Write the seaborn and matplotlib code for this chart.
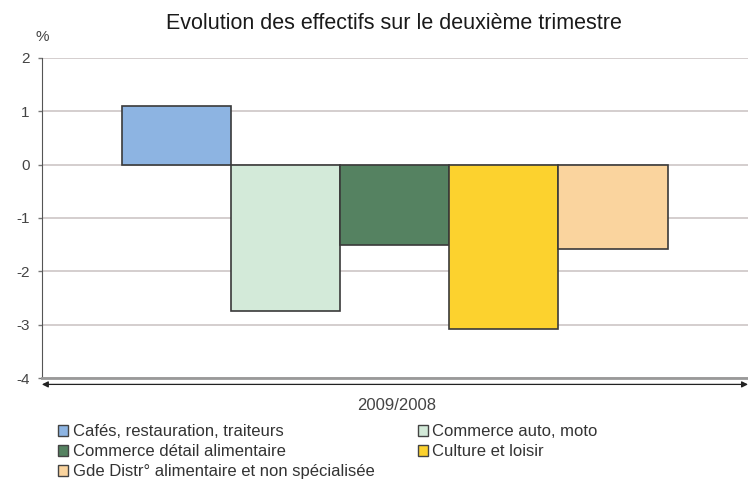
import pandas as pd
import seaborn as sns
import matplotlib.pyplot as plt

secteurs = ["Cafés, restauration, traiteurs", "Commerce auto, moto",
            "Commerce détail alimentaire", "Culture et loisir",
            "Gde Distr° alimentaire et non spécialisée"]
valeurs = [1.1, -2.75, -1.5, -3.08, -1.58]
periode = "2009/2008"
couleurs = ["#8DB4E2", "#D3EAD9", "#558261", "#FCD22E", "#FAD49E"]

data = pd.DataFrame({"periode": [periode] * len(secteurs),
                     "secteur": secteurs, "valeur": valeurs})

sns.set_style("white")
plt.rcParams['font.family'] = ['Liberation Sans', 'DejaVu Sans']
plt.rcParams['axes.unicode_minus'] = False

fig = plt.figure(figsize=(7.48, 4.8), dpi=100)
ax = fig.add_axes([0.056, 0.2125, 0.944, 0.667])

sns.barplot(data=data, x="periode", y="valeur", hue="secteur",
            palette=couleurs, saturation=1, width=0.772, edgecolor="#3a3a3a",
            linewidth=1.2, legend=False, ax=ax)

ax.set_ylim(-4, 2)
ax.set_yticks(range(-4, 3))
ax.yaxis.grid(True, color="#cdc6c6", linewidth=1.2)
ax.set_axisbelow(True)
for s in ["top", "right"]:
    ax.spines[s].set_visible(False)
ax.spines["left"].set_color("#555555")
ax.spines["bottom"].set_color("#999999")
ax.spines["bottom"].set_linewidth(2)
ax.tick_params(axis="y", labelsize=11, labelcolor="#444444", color="#777777",
               length=3, width=1, pad=6, left=True)
ax.set_xticks([])
ax.set_xlabel("")
ax.set_ylabel("")

# double arrow under the plot
ax.annotate("", xy=(1.0, -0.02), xytext=(0.0, -0.02), xycoords="axes fraction",
            arrowprops=dict(arrowstyle="<|-|>", color="#222222", lw=0.9,
                            shrinkA=0, shrinkB=0, mutation_scale=9))

fig.text(0.526, 0.952, "Evolution des effectifs sur le deuxième trimestre",
         ha="center", va="center", fontsize=15.5, color="#1a1a1a")
fig.text(0.057, 0.923, "%", ha="center", va="center", fontsize=11, color="#444444")
fig.text(0.53, 0.155, periode, ha="center", va="center", fontsize=12, color="#444444")

handles = [plt.Rectangle((0, 0), 1, 1, facecolor=c, edgecolor="#444444", linewidth=1)
           for c in couleurs]
ordre = [0, 2, 4, 1, 3]
fig.legend([handles[i] for i in ordre], [secteurs[i] for i in ordre],
           loc="upper left", bbox_to_anchor=(0.078, 0.116), ncol=2,
           frameon=False, fontsize=12, handlelength=0.6, handleheight=0.6,
           handletextpad=0.25, columnspacing=2.6, labelspacing=0.3,
           borderaxespad=0, borderpad=0, labelcolor="#333333")

fig.savefig("out.png", dpi=100)
